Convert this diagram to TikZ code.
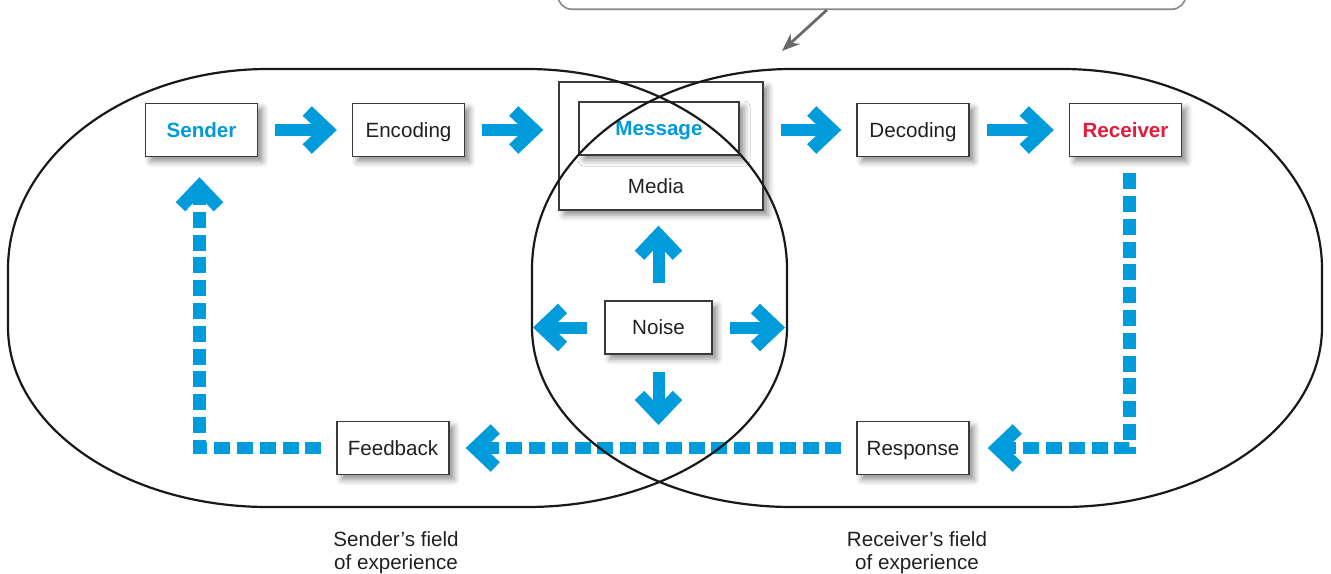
\documentclass[tikz,border=0pt]{standalone}
\usepackage{fontspec}
\setmainfont{Liberation Sans}
\usetikzlibrary{
  arrows.meta,
  calc,
  positioning,
  shadows.blur
}
\definecolor{diagInk}{HTML}{231F20}
\definecolor{diagBlue}{HTML}{009BDA}
\definecolor{diagRed}{HTML}{E41B3B}
\definecolor{diagEdge}{HTML}{3A3A3A}
\definecolor{diagGrey}{HTML}{8A8A8A}
\definecolor{diagPointer}{HTML}{6A6A6A}
\tikzset{
  every node/.style={font=\fontsize{10.3}{11.5}\selectfont, text=diagInk},
  box/.style={
    draw=diagEdge,
    line width=0.7pt,
    fill=white,
    minimum width=56pt,
    minimum height=26.5pt,
    inner sep=0pt,
    text height=7.4pt,
    text depth=0pt,
    blur shadow={shadow xshift=2.5pt, shadow yshift=-2.5pt,
      shadow blur radius=3pt, shadow opacity=45}
  },
  keybox/.style={
    box,
    font=\fontsize{10.3}{11.5}\selectfont\bfseries,
    text=diagBlue
  },
  plain/.style={inner sep=0pt, text height=7.4pt, text depth=0pt},
  fieldlabel/.style={align=center, inner sep=0pt, anchor=north},
  fieldline/.style={draw=black!90, line width=1.1pt},
  callout/.style={
    draw=diagGrey,
    line width=0.8pt,
    rounded corners=7pt,
    fill=white
  },
  calloutpointer/.style={
    draw=diagPointer,
    line width=1.4pt,
    -{Stealth[length=9pt,width=7pt]}
  },
  flowarrow/.style={
    draw=diagBlue,
    line width=6pt,
    -{Straight Barb[length=10pt,width=19pt,line width=6.6pt]},
    shorten <=8.5pt,
    shorten >=7.5pt
  },
  loopdash/.style={
    draw=diagBlue,
    line width=6.4pt,
    dash pattern=on 8pt off 3.4pt,
    -{Straight Barb[length=10pt,width=19pt,line width=6.6pt]},
    shorten <=7.5pt,
    shorten >=8.5pt
  }
}
\begin{document}
\begin{tikzpicture}[x=0.5pt,y=-0.5pt]
  \useasboundingbox (0,0) rectangle (1331,573);

  % cut-off callout at the top
  \node[callout, anchor=south west, minimum width=314pt, minimum height=40pt]
    (callout) at (557,10) {};
  \coordinate (pointer tip) at (782,51);
  \draw[calloutpointer] ([xshift=-22.5pt]callout.south) -- (pointer tip);

  % boxes
  \node[keybox] (sender) at (201.5,130) {Sender};
  \node[box] (encoding) at (408.5,130) {Encoding};
  \node[box, minimum width=102pt, minimum height=64pt] (media) at (661,146) {};
  \node[plain] (media label) at (656,186) {Media};
  \node[keybox, minimum width=80pt] (message) at (659,128.5) {Message};
  \node[box] (decoding) at (913,130) {Decoding};
  \node[box, font=\fontsize{10.3}{11.5}\selectfont\bfseries, text=diagRed]
    (receiver) at (1125.5,130) {Receiver};
  \node[box, minimum width=53.5pt] (noise) at (658.5,327.5) {Noise};
  \node[box] (feedback) at (393,448) {Feedback};
  \node[box] (response) at (913,448) {Response};

  % message flow
  \draw[flowarrow] (sender) -- (encoding);
  \draw[flowarrow] (encoding.east) -- (encoding.east -| media.west);
  \draw[flowarrow] (decoding.west -| media.east) -- (decoding.west);
  \draw[flowarrow] (decoding) -- (receiver);

  % noise
  \coordinate (noise left) at (533,327.5);
  \coordinate (noise right) at (785,327.5);
  \coordinate (noise down) at (658.5,425);
  \draw[flowarrow] (noise.north) -- (noise.north |- media.south);
  \draw[flowarrow, shorten >=0pt] (noise) -- (noise left);
  \draw[flowarrow, shorten >=0pt] (noise) -- (noise right);
  \draw[flowarrow, shorten >=0pt] (noise) -- (noise down);

  % feedback loop
  \draw[loopdash, shorten <=8pt, shorten >=9pt]
    ([xshift=1.8pt]receiver.south) |- (response.east);
  \draw[loopdash, shorten >=8pt] (response) -- (feedback);
  \draw[loopdash, shorten >=10pt] (feedback.west) -| ([xshift=-1pt]sender.south);

  % fields of experience
  \draw[fieldline] (8,269) .. controls (8,158.5) and (124.4,69) .. (268,69)
    -- (527,69) .. controls (670.6,69) and (787,158.5) .. (787,269)
    -- (787,327) .. controls (787,426.4) and (670.6,507) .. (527,507)
    -- (268,507) .. controls (124.4,507) and (8,426.4) .. (8,327) -- cycle;
  \draw[fieldline] (532,269) .. controls (532,158.5) and (648.4,69) .. (792,69)
    -- (1062,69) .. controls (1205.6,69) and (1322,158.5) .. (1322,269)
    -- (1322,327) .. controls (1322,426.4) and (1205.6,507) .. (1062,507)
    -- (792,507) .. controls (648.4,507) and (532,426.4) .. (532,327) -- cycle;

  \node[fieldlabel] (sender field) at (396,531) {Sender's field\\of experience};
  \node[fieldlabel] (receiver field) at (917,531) {Receiver's field\\of experience};
\end{tikzpicture}
\end{document}
